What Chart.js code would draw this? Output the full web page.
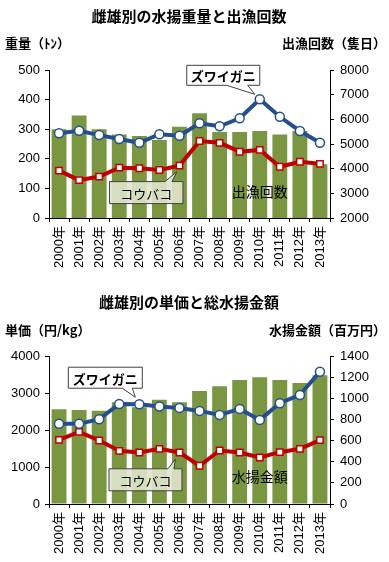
<!DOCTYPE html>
<html>
<head>
<meta charset="utf-8">
<script src="https://cdn.jsdelivr.net/npm/chart.js@4.4.1/dist/chart.umd.min.js"></script>
<style>
  html, body { margin: 0; padding: 0; background: #fff; }
  .box { position: relative; width: 389px; }
</style>
</head>
<body>
<div class="box" style="height:280px"><canvas id="weight"></canvas></div>
<div class="box" style="height:282px"><canvas id="price"></canvas></div>
<script>
// data
const years = ["2000年", "2001年", "2002年", "2003年", "2004年", "2005年", "2006年",
               "2007年", "2008年", "2009年", "2010年", "2011年", "2012年", "2013年"];

// chart 1 : landings (t) and fishing trips
const trips        = [5600, 6160, 5600, 5390, 5320, 5160, 5700, 6250, 5490, 5490, 5530, 5390, 5530, 4180];
const zuwaiWeight  = [286, 295, 280, 267, 254, 283, 278, 320, 310, 337, 401, 342, 294, 254];
const koubakoWeight= [160, 128, 140, 170, 168, 162, 177, 260, 254, 224, 230, 173, 190, 183];
const weightTicks  = { min: 0, max: 500, step: 100 };
const tripTicks    = { min: 2000, max: 8000, step: 1000 };

// chart 2 : unit price (yen/kg) and total value (million yen)
const totalValue   = [897, 890, 881, 963, 916, 985, 963, 1069, 1114, 1173, 1199, 1173, 1145, 1218];
const zuwaiPrice   = [2166, 2166, 2292, 2705, 2697, 2633, 2597, 2516, 2408, 2570, 2273, 2724, 2948, 3576];
const koubakoPrice = [1734, 1950, 1716, 1437, 1392, 1491, 1392, 1033, 1446, 1392, 1257, 1401, 1491, 1726];
const priceTicks   = { min: 0, max: 4000, step: 1000 };
const valueTicks   = { min: 0, max: 1400, step: 200 };

const NUM_FONT = "'Liberation Sans', 'Noto Sans CJK JP', sans-serif";
const JP_FONT = "'Noto Sans CJK JP', sans-serif";
const BAR = '#7a9640';
const BLUE = '#234f8e';
const RED = '#c00000';

function callout(ctx, x, y, box, tail, text, fill, bold) {
  ctx.save();
  ctx.beginPath();
  ctx.moveTo(x + box.l, y + box.t);
  if (box.t < 0) {
    // tail hangs from the bottom edge
    ctx.lineTo(x + box.r, y + box.t);
    ctx.lineTo(x + box.r, y + box.b);
    ctx.lineTo(x + tail[1], y + box.b);
    ctx.lineTo(x + tail[2], y + tail[3]);
    ctx.lineTo(x + tail[0], y + box.b);
    ctx.lineTo(x + box.l, y + box.b);
  } else {
    // tail rises from the top edge
    ctx.lineTo(x + tail[0], y + box.t);
    ctx.lineTo(x + tail[2], y + tail[3]);
    ctx.lineTo(x + tail[1], y + box.t);
    ctx.lineTo(x + box.r, y + box.t);
    ctx.lineTo(x + box.r, y + box.b);
    ctx.lineTo(x + box.l, y + box.b);
  }
  ctx.closePath();
  ctx.fillStyle = fill;
  ctx.fill();
  ctx.strokeStyle = '#404040';
  ctx.lineWidth = 1;
  ctx.stroke();
  ctx.fillStyle = '#000';
  ctx.font = (bold ? 'bold ' : '') + '13px ' + JP_FONT;
  ctx.textAlign = 'center';
  ctx.textBaseline = 'middle';
  ctx.fillText(text, x + (box.l + box.r) / 2, y + (box.t + box.b) / 2 + 1);
  ctx.restore();
}

function makeChart(id, o) {
  const decor = {
    id: 'decor',
    afterDatasetsDraw(chart) {
      const ctx = chart.ctx;
      const zp = chart.getDatasetMeta(1).data[o.zuwaiAt];
      const kp = chart.getDatasetMeta(2).data[6];
      callout(ctx, zp.x, zp.y, o.zuwaiBox, o.zuwaiTail, 'ズワイガニ', '#ffffff', true);
      callout(ctx, kp.x, kp.y, o.kouBox, o.kouTail, 'コウバコ', 'rgba(224,227,204,0.9)', false);
      ctx.save();
      ctx.fillStyle = '#000';
      ctx.font = '14px ' + JP_FONT;
      ctx.textAlign = 'center';
      ctx.textBaseline = 'middle';
      ctx.fillText(o.barName, chart.scales.x.getPixelForValue(10), chart.scales.y.getPixelForValue(o.barNameAt));
      ctx.restore();
    },
    afterDraw(chart) {
      const ctx = chart.ctx;
      ctx.save();
      ctx.fillStyle = '#000';
      ctx.textBaseline = 'middle';
      ctx.font = 'bold 15px ' + JP_FONT;
      ctx.textAlign = 'center';
      ctx.fillText(o.title, 189, o.titleY);
      ctx.font = 'bold 13px ' + JP_FONT;
      ctx.textAlign = 'left';
      ctx.fillText(o.leftTitle, 5, o.axisTitleY);
      ctx.textAlign = 'right';
      ctx.fillText(o.rightTitle, 386, o.axisTitleY);
      ctx.restore();
    }
  };

  const axisGrid = { drawOnChartArea: false, color: '#000', tickLength: 4, tickColor: '#000' };
  const tickFont = { family: NUM_FONT, size: 13 };
  const plain = v => String(v);

  return new Chart(document.getElementById(id), {
    type: 'bar',
    data: {
      labels: years,
      datasets: [
        { type: 'bar', data: o.bars, yAxisID: 'y1', backgroundColor: BAR,
          barPercentage: 0.74, categoryPercentage: 1, order: 3 },
        { type: 'line', data: o.zuwai, yAxisID: 'y', borderColor: BLUE, borderWidth: 4,
          pointStyle: 'circle', pointRadius: 4.5, pointBackgroundColor: '#fff',
          pointBorderColor: BLUE, pointBorderWidth: 1.5, order: 1 },
        { type: 'line', data: o.koubako, yAxisID: 'y', borderColor: RED, borderWidth: 4,
          pointStyle: 'rect', pointRadius: 4.5, pointBackgroundColor: '#fff',
          pointBorderColor: RED, pointBorderWidth: 1.5, order: 2 }
      ]
    },
    options: {
      responsive: true,
      maintainAspectRatio: false,
      animation: false,
      layout: { padding: { top: o.top, left: 0, right: 0, bottom: 0 } },
      plugins: { legend: { display: false }, tooltip: { enabled: false } },
      scales: {
        x: {
          grid: Object.assign({ offset: true }, axisGrid),
          border: { color: '#000', width: 1 },
          ticks: { color: '#000', font: tickFont, minRotation: 90, maxRotation: 90, padding: 4, autoSkip: false },
          afterFit(s) { s.height = o.xHeight; }
        },
        y: {
          position: 'left',
          min: o.leftTicks.min, max: o.leftTicks.max,
          grid: axisGrid,
          border: { color: '#000', width: 1 },
          ticks: { color: '#000', font: tickFont, stepSize: o.leftTicks.step, padding: 5, callback: plain },
          afterFit(s) { s.width = 49; }
        },
        y1: {
          position: 'right',
          min: o.rightTicks.min, max: o.rightTicks.max,
          grid: axisGrid,
          border: { color: '#000', width: 1 },
          ticks: { color: '#000', font: tickFont, stepSize: o.rightTicks.step, padding: 6, callback: plain },
          afterFit(s) { s.width = 59; }
        }
      }
    },
    plugins: [decor]
  });
}

makeChart('weight', {
  title: '雌雄別の水揚重量と出漁回数', titleY: 16,
  leftTitle: '重量（ﾄﾝ）', rightTitle: '出漁回数（隻日）', axisTitleY: 43,
  top: 70, xHeight: 62,
  bars: trips, zuwai: zuwaiWeight, koubako: koubakoWeight,
  leftTicks: weightTicks, rightTicks: tripTicks,
  barName: '出漁回数', barNameAt: 90,
  zuwaiAt: 10,
  zuwaiBox: { l: -73, r: 0, t: -34, b: -14 }, zuwaiTail: [-33, -12, -5, -5],
  kouBox: { l: -70, r: 3.5, t: 16, b: 38 }, kouTail: [-14.5, -7.5, -2.5, 6]
});

makeChart('price', {
  title: '雌雄別の単価と総水揚金額', titleY: 22,
  leftTitle: '単価（円/kg）', rightTitle: '水揚金額（百万円）', axisTitleY: 50,
  top: 76, xHeight: 58,
  bars: totalValue, zuwai: zuwaiPrice, koubako: koubakoPrice,
  leftTicks: priceTicks, rightTicks: valueTicks,
  barName: '水揚金額', barNameAt: 740,
  zuwaiAt: 4,
  zuwaiBox: { l: -71, r: 3, t: -37, b: -16 }, zuwaiTail: [-17, -7, -4, -7],
  kouBox: { l: -70.5, r: 2.5, t: 16.3, b: 38.3 }, kouTail: [-11.5, -5.5, -4, 6.6]
});
</script>
</body>
</html>
